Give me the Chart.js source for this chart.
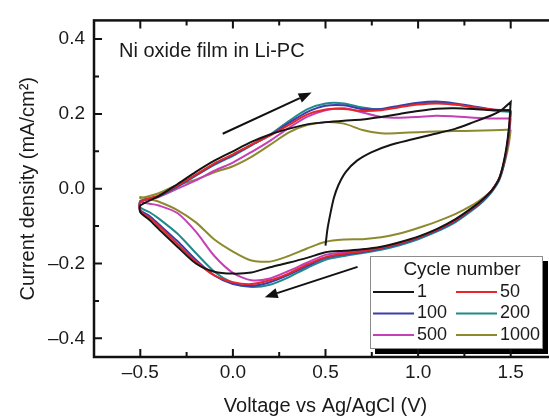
<!DOCTYPE html>
<html>
<head>
<meta charset="utf-8">
<script src="https://cdn.jsdelivr.net/npm/chart.js@4.4.0/dist/chart.umd.min.js"></script>
<style>
  html, body { margin: 0; padding: 0; background: #fff; overflow: hidden; }
  #wrap { position: relative; width: 580px; height: 419px; }
</style>
</head>
<body>
<div id="wrap"><canvas id="cv" width="580" height="419"></canvas></div>
<script>
// voltage grids (V vs Ag/AgCl)
const voltUp = [-0.5, -0.4, -0.3, -0.2, -0.1, 0.0, 0.1, 0.2, 0.3, 0.4, 0.5, 0.6, 0.7, 0.8, 0.9, 1.0, 1.1, 1.2, 1.3, 1.4, 1.5];
const voltDown = [1.5, 1.49, 1.47, 1.44, 1.4, 1.35, 1.3, 1.2, 1.1, 1.0, 0.9, 0.8, 0.7, 0.6, 0.5, 0.4, 0.3, 0.2, 0.1, 0.0, -0.1, -0.2, -0.3, -0.4, -0.45, -0.5];

// first half scan of cycle 1 (starts at open circuit, 0.5 V)
const firstScanV = [0.5, 0.51, 0.525, 0.545, 0.57, 0.61, 0.67, 0.75, 0.85, 0.97, 1.06, 1.2, 1.3, 1.4, 1.45, 1.5];
const firstScanI = [-0.152, -0.11, -0.07, -0.025, 0.01, 0.045, 0.075, 0.098, 0.117, 0.132, 0.143, 0.16, 0.178, 0.197, 0.21, 0.232];

// current density (mA/cm2), anodic branch on voltUp
const up1    = [-0.045, -0.02, 0.012, 0.045, 0.075, 0.1, 0.125, 0.145, 0.16, 0.172, 0.178, 0.182, 0.185, 0.192, 0.2, 0.208, 0.214, 0.215, 0.213, 0.21, 0.21];
const up50   = [-0.035, -0.018, 0.008, 0.038, 0.068, 0.092, 0.118, 0.142, 0.17, 0.198, 0.212, 0.213, 0.208, 0.21, 0.218, 0.225, 0.228, 0.225, 0.218, 0.212, 0.21];
const up100  = [-0.035, -0.02, 0.006, 0.036, 0.066, 0.09, 0.117, 0.143, 0.175, 0.205, 0.222, 0.223, 0.213, 0.213, 0.222, 0.23, 0.233, 0.228, 0.22, 0.212, 0.208];
const up200  = [-0.033, -0.02, 0.005, 0.035, 0.064, 0.088, 0.116, 0.144, 0.18, 0.212, 0.228, 0.228, 0.217, 0.212, 0.22, 0.228, 0.23, 0.225, 0.218, 0.21, 0.205];
const up500  = [-0.032, -0.022, 0.0, 0.022, 0.048, 0.07, 0.098, 0.128, 0.162, 0.192, 0.21, 0.215, 0.204, 0.192, 0.19, 0.192, 0.195, 0.193, 0.19, 0.188, 0.188];
const up1000 = [-0.025, -0.012, 0.01, 0.024, 0.044, 0.06, 0.085, 0.117, 0.15, 0.17, 0.178, 0.174, 0.157, 0.148, 0.149, 0.151, 0.153, 0.154, 0.155, 0.156, 0.158];

// cathodic branch on voltDown
const down1    = [0.232, 0.16, 0.09, 0.03, -0.003, -0.028, -0.048, -0.082, -0.108, -0.128, -0.143, -0.155, -0.162, -0.166, -0.17, -0.185, -0.198, -0.21, -0.224, -0.227, -0.222, -0.2, -0.155, -0.108, -0.084, -0.063];
const down50   = [0.21, 0.15, 0.085, 0.03, -0.003, -0.03, -0.05, -0.085, -0.11, -0.13, -0.146, -0.158, -0.167, -0.174, -0.183, -0.203, -0.227, -0.245, -0.255, -0.25, -0.232, -0.195, -0.148, -0.1, -0.078, -0.06];
const down100  = [0.208, 0.15, 0.083, 0.028, -0.005, -0.032, -0.052, -0.087, -0.112, -0.132, -0.148, -0.16, -0.169, -0.176, -0.185, -0.207, -0.23, -0.25, -0.26, -0.255, -0.232, -0.19, -0.14, -0.095, -0.073, -0.057];
const down200  = [0.205, 0.148, 0.08, 0.025, -0.007, -0.034, -0.055, -0.09, -0.115, -0.135, -0.151, -0.163, -0.172, -0.18, -0.19, -0.212, -0.237, -0.257, -0.263, -0.252, -0.222, -0.172, -0.12, -0.08, -0.063, -0.05];
const down500  = [0.188, 0.14, 0.08, 0.028, -0.003, -0.03, -0.05, -0.085, -0.11, -0.13, -0.146, -0.157, -0.163, -0.17, -0.177, -0.198, -0.22, -0.24, -0.245, -0.225, -0.18, -0.115, -0.065, -0.045, -0.04, -0.035];
const down1000 = [0.158, 0.12, 0.075, 0.03, -0.003, -0.025, -0.042, -0.068, -0.088, -0.105, -0.12, -0.13, -0.135, -0.136, -0.142, -0.16, -0.18, -0.195, -0.192, -0.168, -0.136, -0.09, -0.057, -0.035, -0.028, -0.022];

const cycleLabels = ['1', '50', '100', '200', '500', '1000'];
const cycleColors = ['#151515', '#e8262a', '#3a3ea8', '#21898b', '#c53fb6', '#8d8a2e'];

const xMajor = [-0.5, 0.0, 0.5, 1.0, 1.5];
const xMinor = [-0.25, 0.25, 0.75, 1.25];
const yMajor = [-0.4, -0.2, 0.0, 0.2, 0.4];
const yMinor = [-0.3, -0.1, 0.1, 0.3];

// scan direction arrows, in data units
const arrows = [
  { from: [-0.055, 0.147], to: [0.425, 0.257] },
  { from: [0.673, -0.209], to: [0.172, -0.290] }
];

function pts(vs, is) {
  return vs.map((v, k) => ({ x: v, y: is[k] }));
}

const loops = [
  pts(firstScanV, firstScanI).concat(pts(voltDown, down1), pts(voltUp, up1)),
  pts(voltDown, down50).concat(pts(voltUp, up50)),
  pts(voltDown, down100).concat(pts(voltUp, up100)),
  pts(voltDown, down200).concat(pts(voltUp, up200)),
  pts(voltDown, down500).concat(pts(voltUp, up500)),
  pts(voltDown, down1000).concat(pts(voltUp, up1000))
];

const datasets = loops.map((d, k) => ({
  label: cycleLabels[k],
  data: d,
  showLine: true,
  borderColor: cycleColors[k],
  backgroundColor: cycleColors[k],
  borderWidth: 2,
  pointRadius: 0,
  tension: 0.25,
  fill: false
}));

const FONT = "'Liberation Sans', Arial, sans-serif";
const fmt = v => (v < 0 ? '\u2013' : '') + Math.abs(v).toFixed(1);

const decor = {
  id: 'decor',
  afterDraw(chart) {
    const ctx = chart.ctx;
    const xs = chart.scales.x, ys = chart.scales.y;
    const a = chart.chartArea;
    ctx.save();

    // inset label
    ctx.fillStyle = '#1a1a1a';
    ctx.font = '20px ' + FONT;
    ctx.textBaseline = 'middle';
    ctx.textAlign = 'left';
    ctx.fillText('Ni oxide film in Li-PC', xs.getPixelForValue(-0.615), ys.getPixelForValue(0.366));

    // arrows
    ctx.strokeStyle = '#111';
    ctx.fillStyle = '#111';
    ctx.lineWidth = 2;
    arrows.forEach(ar => {
      const x0 = xs.getPixelForValue(ar.from[0]), y0 = ys.getPixelForValue(ar.from[1]);
      const x1 = xs.getPixelForValue(ar.to[0]), y1 = ys.getPixelForValue(ar.to[1]);
      const ang = Math.atan2(y1 - y0, x1 - x0);
      const hl = 13, hw = 5;
      const bx = x1 - hl * Math.cos(ang), by = y1 - hl * Math.sin(ang);
      ctx.beginPath();
      ctx.moveTo(x0, y0);
      ctx.lineTo(bx, by);
      ctx.stroke();
      ctx.beginPath();
      ctx.moveTo(x1, y1);
      ctx.lineTo(bx + hw * Math.sin(ang), by - hw * Math.cos(ang));
      ctx.lineTo(bx - hw * Math.sin(ang), by + hw * Math.cos(ang));
      ctx.closePath();
      ctx.fill();
    });

    // legend box with drop shadow
    const lx = 370, ly = 256, lw = 173, lh = 93;
    ctx.fillStyle = '#000';
    ctx.fillRect(lx + 5, ly + 5, lw, lh);
    ctx.fillStyle = '#fff';
    ctx.fillRect(lx, ly, lw, lh);
    ctx.strokeStyle = '#8c8c8c';
    ctx.lineWidth = 1;
    ctx.strokeRect(lx + 0.5, ly + 0.5, lw - 1, lh - 1);
    ctx.fillStyle = '#1a1a1a';
    ctx.font = '19px ' + FONT;
    ctx.textAlign = 'center';
    ctx.fillText('Cycle number', lx + 92, ly + 14);
    ctx.font = '18px ' + FONT;
    ctx.textAlign = 'left';
    chart.data.datasets.forEach((ds, k) => {
      const col = k % 2, row = Math.floor(k / 2);
      const sx = lx + 3 + col * 83, sy = ly + 36 + row * 21.5;
      ctx.strokeStyle = ds.borderColor;
      ctx.lineWidth = 2;
      ctx.beginPath();
      ctx.moveTo(sx, sy);
      ctx.lineTo(sx + 41, sy);
      ctx.stroke();
      ctx.fillStyle = '#1a1a1a';
      ctx.fillText(ds.label, sx + 44, sy);
    });

    // frame and inward ticks
    ctx.strokeStyle = '#111';
    ctx.lineWidth = 2.5;
    ctx.strokeRect(a.left, a.top, a.right - a.left, a.bottom - a.top);
    ctx.lineWidth = 2;
    const tickX = (vals, len) => vals.forEach(v => {
      const px = xs.getPixelForValue(v);
      ctx.beginPath();
      ctx.moveTo(px, a.bottom); ctx.lineTo(px, a.bottom - len);
      ctx.moveTo(px, a.top); ctx.lineTo(px, a.top + len);
      ctx.stroke();
    });
    const tickY = (vals, len) => vals.forEach(v => {
      const py = ys.getPixelForValue(v);
      ctx.beginPath();
      ctx.moveTo(a.left, py); ctx.lineTo(a.left + len, py);
      ctx.moveTo(a.right, py); ctx.lineTo(a.right - len, py);
      ctx.stroke();
    });
    tickX(xMajor, 8); tickX(xMinor, 5);
    tickY(yMajor, 8); tickY(yMinor, 5);
    ctx.restore();
  }
};

new Chart(document.getElementById('cv'), {
  type: 'scatter',
  data: { datasets: datasets },
  plugins: [decor],
  options: {
    responsive: false,
    animation: false,
    layout: { padding: { left: 0, top: 13, right: 23, bottom: 0 } },
    plugins: { legend: { display: false }, tooltip: { enabled: false } },
    scales: {
      x: {
        type: 'linear', min: -0.75, max: 1.75,
        grid: { display: false, drawTicks: false },
        border: { display: false },
        afterBuildTicks: s => { s.ticks = xMajor.map(v => ({ value: v })); },
        afterFit: s => { s.height = 62; },
        ticks: { callback: v => fmt(v), color: '#1a1a1a', padding: 4, font: { family: FONT, size: 19 } },
        title: { display: true, text: 'Voltage vs Ag/AgCl (V)', color: '#1a1a1a', padding: { top: 0, bottom: 1 }, font: { family: FONT, size: 20 } }
      },
      y: {
        type: 'linear', min: -0.45, max: 0.45,
        grid: { display: false, drawTicks: false },
        border: { display: false },
        afterBuildTicks: s => { s.ticks = yMajor.map(v => ({ value: v })); },
        afterFit: s => { s.width = 94; },
        ticks: { callback: v => fmt(v), color: '#1a1a1a', padding: 9, font: { family: FONT, size: 19 } },
        title: { display: true, text: 'Current density (mA/cm\u00b2)', color: '#1a1a1a', padding: { top: 16, bottom: 0 }, font: { family: FONT, size: 20 } }
      }
    }
  }
});
</script>
</body>
</html>
